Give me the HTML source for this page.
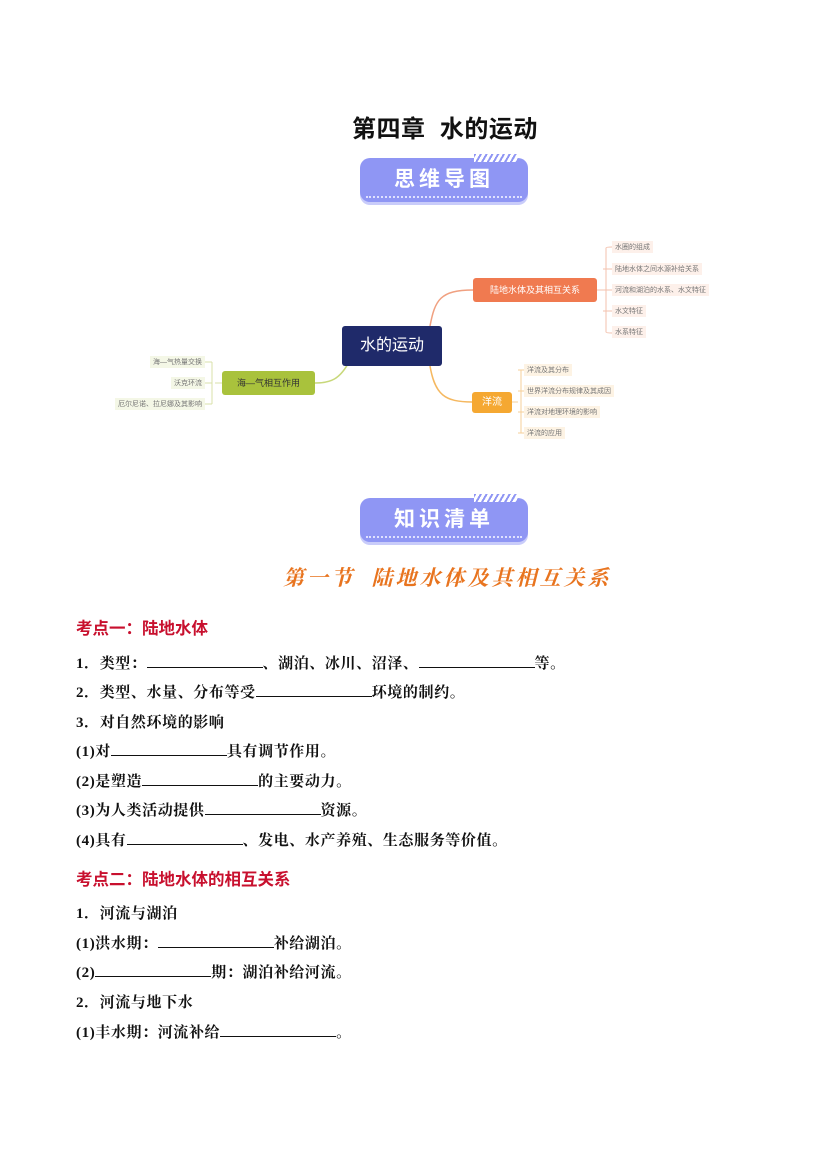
<!DOCTYPE html>
<html><head><meta charset="utf-8"><style>
body{margin:0;width:827px;height:1169px;background:#fff;position:relative;font-family:"Liberation Sans","Noto Sans CJK SC",sans-serif;overflow:hidden}
.a{position:absolute;white-space:nowrap}
.t{font-size:15px;letter-spacing:0.6px;font-weight:bold;color:#111;left:76px;font-family:"Liberation Serif","Noto Serif CJK SC",serif}
.u{display:inline-block;width:116px;border-bottom:1px solid #111;height:14px;vertical-align:baseline}
.k{font-size:16.5px;font-weight:bold;color:#c8102e;left:76px}
.ban{position:absolute;left:360px;width:168px;height:44px;border-radius:10px;background:#8f96f4;box-shadow:0 3px 0 #c9ccfa;color:#fff;font-weight:bold;font-size:21px;text-align:center;line-height:44px;letter-spacing:4px}
.ban:after{content:"";position:absolute;left:6px;right:6px;bottom:4px;border-bottom:2px dotted #dfe1ff}
.stripe{position:absolute;right:10px;top:-4px;width:44px;height:8px;background:repeating-linear-gradient(120deg,#8f96f4 0 2px,#fff 2px 5px)}
.n{position:absolute;font-size:10px;text-align:center;border-radius:3px}
.l{position:absolute;font-size:7px;color:#777;white-space:nowrap;padding:1px 3px}
</style></head><body>
<div class="a" style="left:352px;top:109px;font-size:24px;letter-spacing:0.5px;font-weight:bold;color:#111">第四章&nbsp; 水的运动</div>
<div class="ban" style="top:158px">思维导图<div class="stripe"></div></div>

<svg class="a" style="left:0;top:0" width="827" height="470">
<g fill="none" stroke-width="1.5">
<path d="M430 326 C435 300,440 290,473 290" stroke="#f0a080"/>
<path d="M430 366 C435 395,445 402,472 402" stroke="#f5b860"/>
<path d="M350 360 C340 380,330 383,315 383" stroke="#c8d87a"/>
</g>
<g fill="none" stroke="#f3c2ae" stroke-width="1"><path d="M597 290 H603 M606 248 V332 M606 248 Q606 247 612 247 M603 269 H612 M603 290 H612 M603 311 H612 M606 332 Q606 333 612 333"/></g>
<g fill="none" stroke="#f5cf98" stroke-width="1"><path d="M512 402 H518 M521 370 V433 M518 370 H524 M518 391 H524 M518 412 H524 M518 433 H524"/></g>
<g fill="none" stroke="#d8e0a8" stroke-width="1"><path d="M222 383 H215 M212 362 V404 M212 362 H205 M212 383 H205 M212 404 H205"/></g>
</svg>
<div class="n" style="left:342px;top:326px;width:100px;height:40px;line-height:40px;background:#1f2a6a;color:#fff;font-size:16px">水的运动</div>
<div class="n" style="left:473px;top:278px;width:124px;height:24px;line-height:24px;background:#f07a50;color:#fff;font-size:9px">陆地水体及其相互关系</div>
<div class="n" style="left:472px;top:392px;width:40px;height:21px;line-height:21px;background:#f5a832;color:#fff">洋流</div>
<div class="n" style="left:222px;top:371px;width:93px;height:24px;line-height:24px;background:#a9c23c;color:#333;font-size:9px">海—气相互作用</div>
<div class="l" style="left:612px;top:241px;background:#fdf0ea">水圈的组成</div>
<div class="l" style="left:612px;top:263px;background:#fdf0ea">陆地水体之间水源补给关系</div>
<div class="l" style="left:612px;top:284px;background:#fdf0ea">河流和湖泊的水系、水文特征</div>
<div class="l" style="left:612px;top:305px;background:#fdf0ea">水文特征</div>
<div class="l" style="left:612px;top:326px;background:#fdf0ea">水系特征</div>
<div class="l" style="left:524px;top:364px;background:#fdf3e4">洋流及其分布</div>
<div class="l" style="left:524px;top:385px;background:#fdf3e4">世界洋流分布规律及其成因</div>
<div class="l" style="left:524px;top:406px;background:#fdf3e4">洋流对地理环境的影响</div>
<div class="l" style="left:524px;top:427px;background:#fdf3e4">洋流的应用</div>
<div class="l" style="right:622px;top:356px;background:#f4f7e6">海—气热量交换</div>
<div class="l" style="right:622px;top:377px;background:#f4f7e6">沃克环流</div>
<div class="l" style="right:622px;top:398px;background:#f4f7e6">厄尔尼诺、拉尼娜及其影响</div>

<div class="ban" style="top:498px">知识清单<div class="stripe"></div></div>
<div class="a" style="left:283px;top:562px;font-size:21px;font-weight:bold;font-style:italic;color:#e8741f;letter-spacing:3px;font-family:'Noto Serif CJK SC',serif">第一节&nbsp; 陆地水体及其相互关系</div>

<div class="a k" style="top:615px">考点一：陆地水体</div>
<div class="a t" style="top:652px">1．类型：<span class="u"></span>、湖泊、冰川、沼泽、<span class="u"></span>等。</div>
<div class="a t" style="top:681px">2．类型、水量、分布等受<span class="u"></span>环境的制约。</div>
<div class="a t" style="top:711px">3．对自然环境的影响</div>
<div class="a t" style="top:740px">(1)对<span class="u"></span>具有调节作用。</div>
<div class="a t" style="top:770px">(2)是塑造<span class="u"></span>的主要动力。</div>
<div class="a t" style="top:799px">(3)为人类活动提供<span class="u"></span>资源。</div>
<div class="a t" style="top:829px">(4)具有<span class="u"></span>、发电、水产养殖、生态服务等价值。</div>
<div class="a k" style="top:866px">考点二：陆地水体的相互关系</div>
<div class="a t" style="top:902px">1．河流与湖泊</div>
<div class="a t" style="top:932px">(1)洪水期：<span class="u"></span>补给湖泊。</div>
<div class="a t" style="top:961px">(2)<span class="u"></span>期：湖泊补给河流。</div>
<div class="a t" style="top:991px">2．河流与地下水</div>
<div class="a t" style="top:1021px">(1)丰水期：河流补给<span class="u"></span>。</div>
</body></html>
